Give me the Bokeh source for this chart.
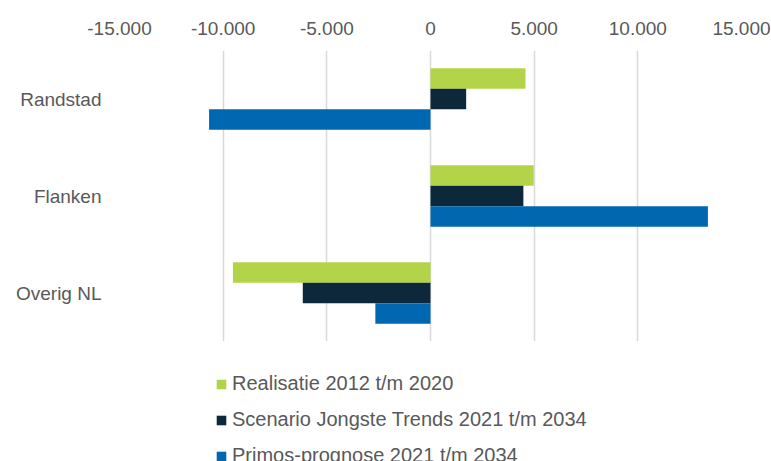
from bokeh.plotting import figure
from bokeh.models import ColumnDataSource, FactorRange, Range1d, FixedTicker, Legend, LegendItem
from bokeh.layouts import column
from bokeh.transform import dodge
from bokeh.embed import file_html
from bokeh.resources import INLINE

categories = ["Randstad", "Flanken", "Overig NL"]
realisatie = [4580, 4980, -9530]
scenario = [1720, 4480, -6160]
primos = [-10680, 13380, -2660]

series_names = ["Realisatie 2012 t/m 2020",
                "Scenario Jongste Trends 2021 t/m 2034",
                "Primos-prognose 2021 t/m 2034"]
colors = ["#b3d449", "#0d283a", "#0067b0"]

tick_values = [-15000, -10000, -5000, 0, 5000, 10000, 15000]
tick_labels = ["-15.000", "-10.000", "-5.000", "0", "5.000", "10.000", "15.000"]

TEXT = "#595959"
FONT = "Liberation Sans"
FS = "19px"

source = ColumnDataSource(dict(cat=categories, r=realisatie, s=scenario, p=primos))

p = figure(width=771, height=341, output_backend="svg", toolbar_location=None,
           y_range=FactorRange(*reversed(categories), range_padding=0),
           x_range=Range1d(-15000, 15000), x_axis_location="above",
           min_border_left=119, min_border_right=30, min_border_top=50, min_border_bottom=0)
p.outline_line_color = None
p.background_fill_color = "white"
p.border_fill_color = "white"

bh = 0.211
offsets = [bh, 0, -bh]
keys = ["r", "s", "p"]
for key, off, col in zip(keys, offsets, colors):
    p.hbar(y=dodge("cat", off, range=p.y_range), height=bh, left=0, right=key,
           source=source, fill_color=col, line_color=None)

p.xaxis.ticker = FixedTicker(ticks=tick_values)
p.xaxis.major_label_overrides = {v: l for v, l in zip(tick_values, tick_labels)}
for ax in (p.xaxis[0], p.yaxis[0]):
    ax.axis_line_color = None
    ax.major_tick_line_color = None
    ax.minor_tick_line_color = None
    ax.major_tick_out = 0
    ax.major_tick_in = 0
    ax.major_label_text_color = TEXT
    ax.major_label_text_font = FONT
    ax.major_label_text_font_size = FS
p.xaxis.major_label_standoff = 16
p.yaxis.major_label_standoff = 18

p.xgrid.grid_line_color = "#d9d9d9"
p.xgrid.grid_line_width = 1.5
p.xgrid.ticker = FixedTicker(ticks=tick_values)
p.ygrid.grid_line_color = None

# legend panel below the chart (its frame is aligned with the chart's frame)
p2 = figure(width=771, height=120, output_backend="svg", toolbar_location=None,
            x_range=Range1d(-15000, 15000),
            y_range=FactorRange(*reversed(categories), range_padding=0),
            x_axis_type=None, y_axis_type=None,
            min_border_left=119, min_border_right=30, min_border_top=0, min_border_bottom=0)
p2.outline_line_color = None
p2.grid.grid_line_color = None
p2.border_fill_color = "white"
p2.background_fill_color = "white"
leg_renderers = []
for key, off, col in zip(keys, offsets, colors):
    r = p2.hbar(y=dodge("cat", off, range=p2.y_range), height=bh, left=0, right=key,
                source=source, fill_color=col, line_color=None, visible=False)
    leg_renderers.append(r)

legend = Legend(items=[LegendItem(label=n, renderers=[r]) for n, r in zip(series_names, leg_renderers)],
                location=(96, -6), orientation="vertical",
                padding=0, margin=0, spacing=13,
                glyph_width=12, glyph_height=12, label_standoff=5, label_height=20,
                border_line_color=None, background_fill_alpha=0,
                label_text_color=TEXT, label_text_font=FONT, label_text_font_size="20px")
p2.add_layout(legend, "center")

layout = column(p, p2, spacing=0)
open("out.html", "w").write(file_html(layout, INLINE))
